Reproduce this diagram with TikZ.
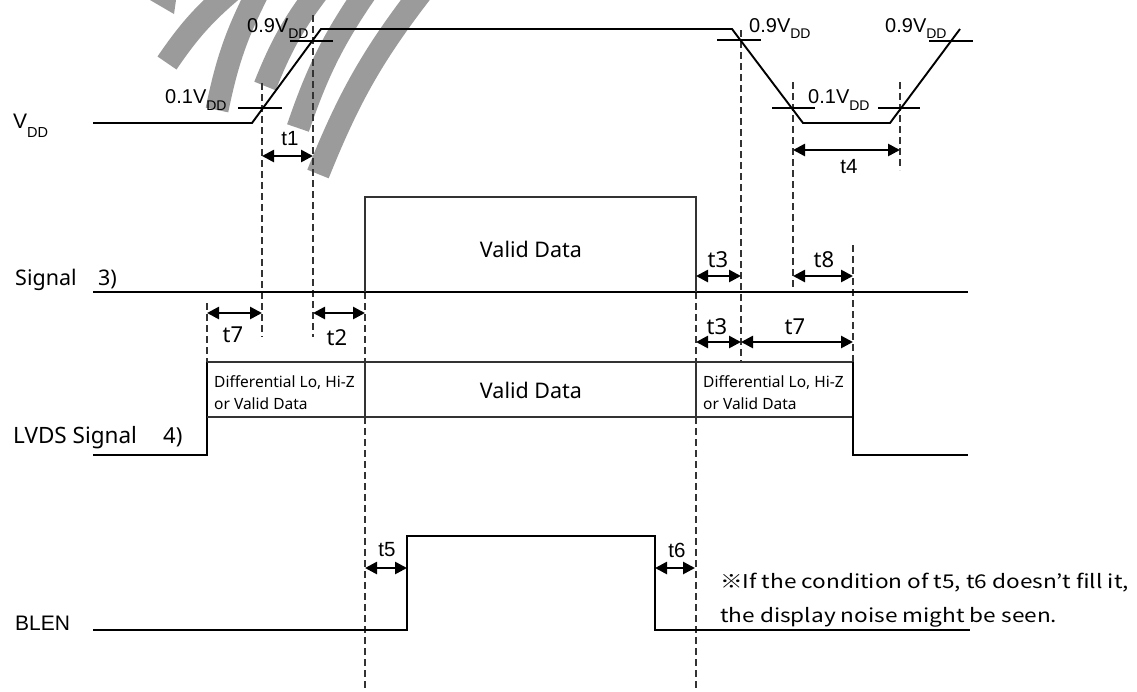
\documentclass[tikz,border=0pt]{standalone}
\usepackage{fontspec}
\setmainfont{Liberation Sans}
\newfontfamily\arialf{Liberation Sans}
\newfontfamily\meiryo{Noto Sans}
\newfontfamily\gothic[FakeStretch=1.19]{Noto Sans CJK JP}
\usetikzlibrary{arrows.meta}
\definecolor{wm}{RGB}{155,155,155}
\newcommand{\fsz}[1]{\fontsize{#1}{#1}\selectfont}
\newcommand{\VDDlab}[2]{{\arialf\fsz{20}#1V\raisebox{-#2pt}{\fsz{14}DD}}}
\begin{document}
\begin{tikzpicture}[x=1pt,y=-1pt,
  wave/.style={line width=1.9pt,black},
  boxl/.style={line width=1.5pt,black!80},
  tick/.style={line width=1.6pt,black},
  dsh/.style={line width=1.4pt,black!80,dash pattern=on 7pt off 4pt},
  tarr/.style={line width=2.6pt,{Triangle[length=12pt,width=12pt]}-{Triangle[length=12pt,width=12pt]}},
  band/.style={line width=23pt,wm},
  lab/.style={inner sep=0pt,anchor=base west},
  ta/.style={inner sep=0pt,font=\arialf\fsz{20.5}},
  tm/.style={inner sep=0pt,font=\meiryo\fsz{22}},
  vd/.style={inner sep=0pt,font=\meiryo\fsz{21.5}},
  df/.style={inner sep=0pt,anchor=base west,font=\meiryo\fsz{15.5}}
]
\useasboundingbox (0,0) rectangle (1137,691);
\fill[white] (0,0) rectangle (1137,691);
% watermark strokes
\begin{scope}
\clip (0,0) rectangle (1137,691);
\draw[band] (167,63) to[bend left=8] (237,-14);
\draw[band] (217,110) to[bend left=8] (261,-14);
\draw[band] (265,86) to[bend left=8] (322,-14);
\draw[band] (298,128) to[bend left=8] (370,-14);
\draw[band] (318,174) to[bend left=8] (426,-14);
\fill[wm] (150,0) -- (176,0) -- (174,14) -- cycle;
\end{scope}
% coordinates
\coordinate (v0) at (93,123);
\coordinate (v1) at (252,123);
\coordinate (v2) at (321,29);
\coordinate (v3) at (732,29);
\coordinate (v4) at (803,123);
\coordinate (v5) at (890,123);
\coordinate (v6) at (960,29);
% dashed lines
\draw[dsh] (207,303) -- (207,362);
\draw[dsh] (262,83) -- (262,337);
\draw[dsh] (313,15) -- (313,337);
\draw[dsh] (365,292) -- (365,362);
\draw[dsh] (365,417) -- (365,691);
\draw[dsh] (696,292) -- (696,362);
\draw[dsh] (696,417) -- (696,691);
\draw[dsh] (741,30) -- (741,362);
\draw[dsh] (793,82) -- (793,292);
\draw[dsh] (853,245) -- (853,362);
\draw[dsh] (900,82) -- (900,170);
% VDD
\draw[wave] (v0) -- (v1) -- (v2) -- (v3) -- (v4) -- (v5) -- (v6);
\draw[tick] (238,108) -- (282,108);
\draw[tick] (290,41) -- (333,41);
\draw[tick] (717,40) -- (761,40);
\draw[tick] (772,108) -- (815,108);
\draw[tick] (878,108) -- (920,108);
\draw[tick] (929,41) -- (973,41);
% Signal
\draw[wave] (93,292) -- (968,292);
\draw[boxl] (365,292) -- (365,197) -- (696,197) -- (696,292);
% LVDS
\draw[wave] (93,455) -- (207,455) -- (207,362);
\draw[boxl] (207,362) -- (853,362);
\draw[boxl] (207,417) -- (853,417);
\draw[boxl] (365,362) -- (365,417);
\draw[boxl] (696,362) -- (696,417);
\draw[wave] (853,362) -- (853,455) -- (968,455);
% BLEN
\draw[wave] (93,630) -- (407,630) -- (407,536) -- (655,536) -- (655,630) -- (970,630);
% arrows
\coordinate (a1l) at (262,156); \coordinate (a1r) at (313,156);
\coordinate (a4l) at (793,150); \coordinate (a4r) at (900,150);
\coordinate (a7l) at (207,313); \coordinate (a7r) at (262,313);
\coordinate (a2l) at (313,313); \coordinate (a2r) at (365,313);
\coordinate (a3l) at (696,276); \coordinate (a3r) at (741,276);
\coordinate (a8l) at (793,276); \coordinate (a8r) at (853,276);
\coordinate (b3l) at (696,342); \coordinate (b3r) at (741,342);
\coordinate (b7l) at (741,342); \coordinate (b7r) at (853,342);
\coordinate (a5l) at (365,568); \coordinate (a5r) at (407,568);
\coordinate (a6l) at (655,568); \coordinate (a6r) at (695,568);
\draw[tarr] (a1l) -- (a1r);
\draw[tarr] (a4l) -- (a4r);
\draw[tarr] (a7l) -- (a7r);
\draw[tarr] (a2l) -- (a2r);
\draw[tarr] (a3l) -- (a3r);
\draw[tarr] (a8l) -- (a8r);
\draw[tarr] (b3l) -- (b3r);
\draw[tarr] (b7l) -- (b7r);
\draw[tarr] (a5l) -- (a5r);
\draw[tarr] (a6l) -- (a6r);
% labels VDD levels
\node[lab] (lvdd) at (13,128) {{\arialf\fsz{21}V\raisebox{-9pt}{\fsz{14.5}DD}}};
\node[lab] (l01a) at (165,103) {\VDDlab{0.1}{7}};
\node[lab] (l09a) at (247,32) {\VDDlab{0.9}{6}};
\node[lab] (l09b) at (749,32) {\VDDlab{0.9}{6}};
\node[lab] (l09c) at (885,32) {\VDDlab{0.9}{6}};
\node[lab] (l01b) at (808,103) {\VDDlab{0.1}{7}};
% time labels
\node[ta] (t1) at (290,139) {t1};
\node[ta] (t4) at (849,167) {t4};
\node[ta] (t5) at (387,550) {t5};
\node[ta] (t6) at (677,550) {t6};
\node[tm] (t7a) at (233,335) {t7};
\node[tm] (t2) at (337,338) {t2};
\node[tm] (t3a) at (718,260) {t3};
\node[tm] (t8) at (824,260) {t8};
\node[tm] (t3b) at (717,327) {t3};
\node[tm] (t7b) at (795,327) {t7};
% signal names
\node[lab,font=\meiryo\fsz{21.5}] (sig) at (15,285) {Signal};
\node[lab,font=\meiryo\fsz{21.5}] (sig3) at (98,285) {3)};
\node[lab,font=\meiryo\fsz{22.5}] (lvds) at (13,443) {LVDS Signal};
\node[lab,font=\meiryo\fsz{22}] (lvds4) at (163,443) {4)};
\node[lab,font=\arialf\fsz{21}] (blen) at (15,630) {BLEN};
% data texts
\node[vd,anchor=base] (vda) at (531,257) {Valid Data};
\node[vd,anchor=base] (vdb) at (531,398) {Valid Data};
\node[df] (dfa1) at (214,387) {Differential Lo, Hi-Z};
\node[df] (dfa2) at (214,409) {or Valid Data};
\node[df] (dfb1) at (703,387) {Differential Lo, Hi-Z};
\node[df] (dfb2) at (703,409) {or Valid Data};
% note
\node[lab,font=\gothic\fsz{19}] (n1) at (720,588) {※If the condition of t5, t6 doesn’t fill it,};
\node[lab,font=\gothic\fsz{19}] (n2) at (720,622) {the display noise might be seen.};
\end{tikzpicture}
\end{document}
